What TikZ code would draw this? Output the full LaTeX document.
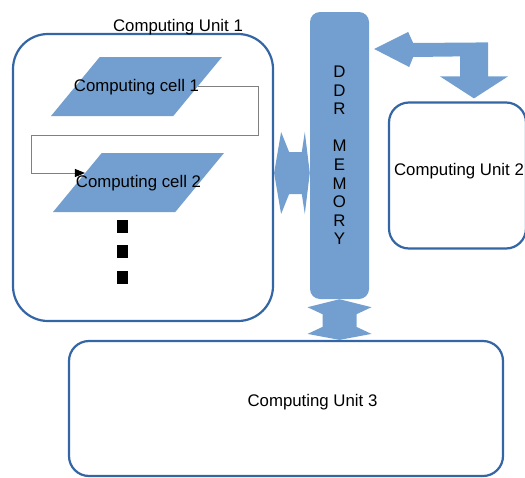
\documentclass[tikz,border=0pt]{standalone}
\usepackage{fontspec}
\setmainfont{Liberation Sans}
\usetikzlibrary{
  arrows.meta,
  positioning,
  calc,
  shapes.geometric
}
\definecolor{unitline}{HTML}{3465A4}
\definecolor{cellblue}{HTML}{729FCF}

\begin{document}
\begin{tikzpicture}[
x=1pt,y=-1pt,
font=\fontsize{16.8}{19}\selectfont,
unitbox/.style={
draw=unitline,
line width=2.2pt,
fill=white,
rounded corners=#1,
inner sep=0pt
},
unitbox/.default=20pt,
cellbox/.style={
trapezium,
trapezium left angle=56.5,
trapezium right angle=123.5,
trapezium stretches=true,
minimum width=171pt,
minimum height=59pt,
inner sep=3pt,
fill=cellblue
},
memorybar/.style={
fill=cellblue,
rounded corners=10pt,
minimum width=59pt,
minimum height=287pt,
align=center,
inner sep=0pt,
font=\fontsize{16.8}{18.6}\selectfont
},
bigarrow/.style={fill=cellblue},
dotbox/.style={fill=black,minimum width=11pt,minimum height=13pt,inner sep=0pt},
link/.style={draw=gray,line width=0.9pt,-{Triangle[color=black,length=10pt,width=8pt]}}
]
\useasboundingbox (0,0) rectangle (525,477);

\node[unitbox=35pt,minimum width=260pt,minimum height=287pt] (cu1) at (143,177.5) {};
\node[anchor=base] (cu1title) at (178,31) {Computing Unit 1};

\node[unitbox,minimum width=137pt,minimum height=146pt,
label={[xshift=1.5pt,yshift=4pt]center:Computing Unit 2}] (cu2) at (457.5,175.5) {};

\node[unitbox,minimum width=434pt,minimum height=135pt,
label={[xshift=26.5pt,yshift=6pt]center:Computing Unit 3}] (cu3) at (286,408.5) {};

\node[cellbox,label={[yshift=-1pt]center:Computing cell 1}] (cell1) at (136.5,86.5) {};
\node[cellbox,label={[yshift=-1pt]center:Computing cell 2}] (cell2) at (138.5,182.5) {};

\coordinate (c2in) at ($(cell2.top left corner)!0.34!(cell2.bottom left corner)$);
\draw[link] (cell1.east) -- ++(61,0) -- ++(0,49) -| ($(c2in)+(-54,0)$) -- (c2in);

\node[dotbox] (dot1) at (122.5,226.5) {};
\node[dotbox] (dot2) at (122.5,251) {};
\node[dotbox] (dot3) at (122.5,277.5) {};

\node[memorybar] (mem) at (339.5,155.5) {D\\D\\R\\[18.6pt]M\\E\\M\\O\\R\\Y};

% memory <-> unit 1
\coordinate (hl) at (cu1.east |- 0,173);
\coordinate (hr) at (mem.west |- hl);
\fill[bigarrow] (hl) -- ($(hl)+(7,-41)$) -- ($(hl)+(15,-21)$) -- ($(hr)+(-8,-21)$)
  -- ($(hr)+(-5,-41)$) -- (hr) -- ($(hr)+(-5,41)$) -- ($(hr)+(-8,21)$)
  -- ($(hl)+(15,21)$) -- ($(hl)+(7,41)$) -- cycle;

% memory <-> unit 3
\coordinate (vt) at (mem.south);
\coordinate (vb) at (mem.south |- cu3.north);
\fill[bigarrow] (vt) -- ($(vt)+(-32,8)$) -- ($(vt)+(-17,15)$) -- ($(vb)+(-17,-13)$)
  -- ($(vb)+(-32,-6)$) -- (vb) -- ($(vb)+(32,-6)$) -- ($(vb)+(17,-13)$)
  -- ($(vt)+(17,15)$) -- ($(vt)+(32,8)$) -- cycle;

% memory <-> unit 2
\coordinate (bl) at ($(mem.east |- 0,49)+(5,0)$);
\coordinate (bd) at ($(cu2.north)+(16.5,-3)$);
\fill[bigarrow] (bl) -- ($(bl)+(34,-17)$) -- ($(bl)+(39,-6)$) -- ($(bd)+(14,-56)$)
  -- ($(bd)+(14,-22)$) -- ($(bd)+(34,-22)$) -- (bd) -- ($(bd)+(-34,-22)$)
  -- ($(bd)+(-14,-22)$) -- ($(bd)+(-14,-42)$) -- ($(bl)+(39,8)$)
  -- ($(bl)+(35,18)$) -- cycle;

\end{tikzpicture}
\end{document}
